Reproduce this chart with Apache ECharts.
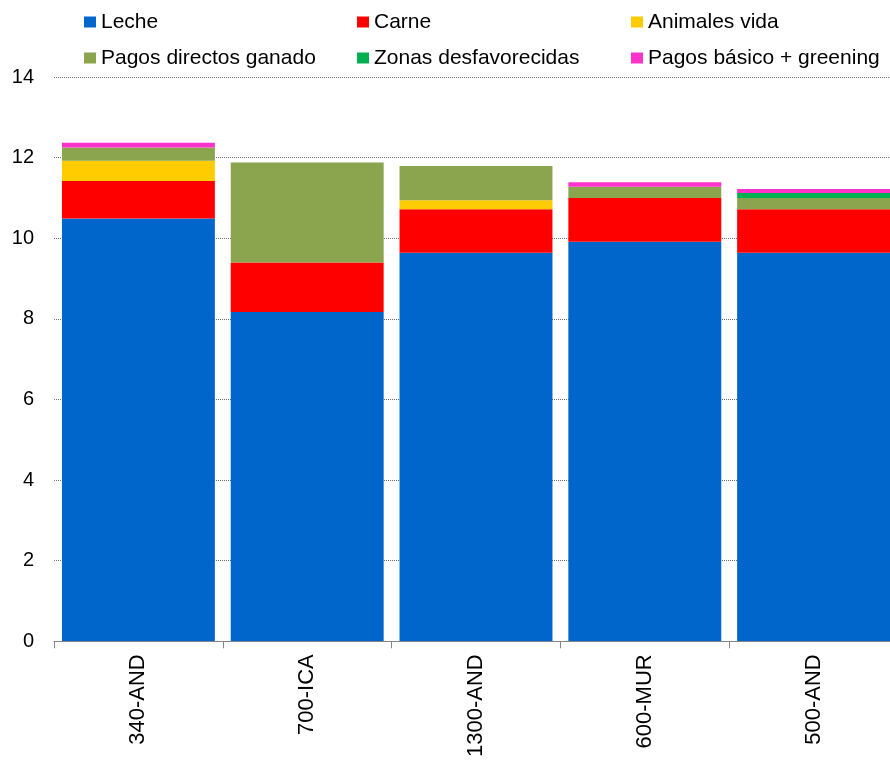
<!DOCTYPE html>
<html>
<head>
<meta charset="utf-8">
<style>
html,body{margin:0;padding:0;background:#fff;overflow:hidden;}
#c{width:898px;height:760px;}
</style>
<script src="https://cdn.jsdelivr.net/npm/echarts@6/dist/echarts.min.js"></script>
</head>
<body>
<div id="c"></div>
<script>
const categories = ['340-AND', '700-ICA', '1300-AND', '600-MUR', '500-AND'];
const leche = [10.49, 8.17, 9.64, 9.91, 9.64];
const carne = [0.93, 1.23, 1.08, 1.09, 1.08];
const animalesVida = [0.50, 0, 0.22, 0, 0];
const pagosDirectos = [0.33, 2.48, 0.85, 0.28, 0.28];
const zonasDesfav = [0, 0, 0, 0, 0.12];
const pagosBasico = [0.12, 0, 0, 0.11, 0.10];
const yTicks = [0, 2, 4, 6, 8, 10, 12, 14];

const FONT = 'Liberation Sans, Arial, sans-serif';
const seriesDefs = [
  ['Leche', leche, '#0066CC'],
  ['Carne', carne, '#FF0000'],
  ['Animales vida', animalesVida, '#FFCC00'],
  ['Pagos directos ganado', pagosDirectos, '#8BA54E'],
  ['Zonas desfavorecidas', zonasDesfav, '#00B050'],
  ['Pagos básico + greening', pagosBasico, '#FF33CC']
];

function legendCol(left, names) {
  return {
    orient: 'vertical', left: left, top: 6,
    icon: 'rect', itemWidth: 12, itemHeight: 11, itemGap: 14,
    textStyle: { fontFamily: FONT, fontSize: 21, color: '#000', lineHeight: 22, padding: [0, 0, 0, 0] },
    data: names, selectedMode: false
  };
}

const chart = echarts.init(document.getElementById('c'), null, { renderer: 'canvas' });
chart.setOption({
  animation: false,
  backgroundColor: '#fff',
  legend: [
    legendCol(79, ['Leche', 'Pagos directos ganado']),
    legendCol(352, ['Carne', 'Zonas desfavorecidas']),
    legendCol(626, ['Animales vida', 'Pagos básico + greening'])
  ],
  grid: { left: 54, top: 77, right: 0, bottom: 116, containLabel: false },
  xAxis: {
    type: 'category', data: categories, boundaryGap: true,
    axisLine: { show: true, lineStyle: { color: '#868686', width: 1 } },
    axisTick: { show: true, length: 7, alignWithLabel: false, lineStyle: { color: '#868686' } },
    axisLabel: { rotate: 90, margin: 13, fontFamily: FONT, fontSize: 22, color: '#000', interval: 0 },
    z: 5
  },
  yAxis: {
    type: 'value', min: yTicks[0], max: yTicks[yTicks.length - 1], interval: 2,
    axisLine: { show: false }, axisTick: { show: false },
    axisLabel: { margin: 20, fontFamily: FONT, fontSize: 20, color: '#000' },
    splitLine: { show: true, lineStyle: { color: '#6f6f6f', width: 1, type: [1, 1] } }
  },
  series: seriesDefs.map(([name, data, color]) => ({
    name: name, type: 'bar', stack: 'total', data: data,
    barCategoryGap: '9.4%',
    itemStyle: { color: color },
    emphasis: { disabled: true }
  }))
});
</script>
</body>
</html>
